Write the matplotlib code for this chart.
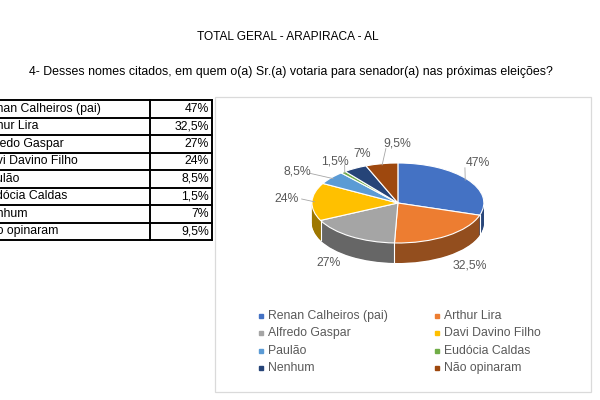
import matplotlib.pyplot as plt
import matplotlib.colors as mcolors
from matplotlib.patches import Rectangle
import numpy as np

plt.rcParams["font.family"] = ["Liberation Sans", "DejaVu Sans"]

title = "TOTAL GERAL - ARAPIRACA - AL"
question = "4- Desses nomes citados, em quem o(a) Sr.(a) votaria para senador(a) nas próximas eleições?"
names = ["Renan Calheiros (pai)", "Arthur Lira", "Alfredo Gaspar", "Davi Davino Filho",
         "Paulão", "Eudócia Caldas", "Nenhum", "Não opinaram"]
values = [47, 32.5, 27, 24, 8.5, 1.5, 7, 9.5]
value_labels = ["47%", "32,5%", "27%", "24%", "8,5%", "1,5%", "7%", "9,5%"]
colors = ["#4472C4", "#ED7D31", "#A5A5A5", "#FFC000", "#5B9BD5", "#70AD47", "#264478", "#9E480E"]

# label layout in pie-axes units (x, y) and leader start (or None)
label_pos = [(0.93, 1.0), (0.84, -1.55), (-0.81, -1.5), (-1.29, 0.1),
             (-1.17, 0.78), (-0.73, 1.03), (-0.42, 1.23), (-0.01, 1.48)]
leader_start = [(0.78, 0.88), None, None, (-1.12, 0.1),
                (-1.02, 0.74), (-0.62, 0.95), None, (-0.14, 1.36)]

fig = plt.figure(figsize=(6, 4), dpi=100)

# background axes in pixel units
bg = fig.add_axes([0, 0, 1, 1])
bg.set_xlim(0, 600)
bg.set_ylim(400, 0)
bg.axis("off")

bg.text(288, 37, title, ha="center", va="center", fontsize=8.6)
bg.text(291, 72, question, ha="center", va="center", fontsize=8.9)

# table (left column runs off the canvas, as in the source)
top, row_h = 100, 17.5
x_left, x_mid, x_right = -40, 150, 212
for i, (name, lab) in enumerate(zip(names, value_labels)):
    y = top + i * row_h
    bg.text(-19, y + row_h / 2, name, ha="left", va="center", fontsize=8.8)
    bg.text(x_right - 3, y + row_h / 2, lab, ha="right", va="center", fontsize=8.8)
for i in range(len(names) + 1):
    y = top + i * row_h
    bg.plot([x_left, x_right], [y, y], color="black", lw=1.4)
for x in (x_mid, x_right):
    bg.plot([x, x], [top, top + row_h * len(names)], color="black", lw=1.4)

# chart area frame
bg.add_patch(Rectangle((215, 97), 376, 295, fill=False, edgecolor="#DADADA", lw=0.9))

# pseudo-3D pie: stacked darker pies for the side, then the top surface
pa = fig.add_axes([260.4 / 600, 121 / 400, 275 / 600, 140 / 400])
dark = [tuple(c * 0.62 for c in mcolors.to_rgb(col)) for col in colors]
depth = 0.5
n_layers = 30
for k in range(n_layers, 0, -1):
    pa.pie(values, colors=dark, startangle=90, counterclock=False,
           center=(0, -depth * k / n_layers), radius=1,
           wedgeprops=dict(linewidth=0.3, edgecolor=None))
pa.pie(values, colors=colors, startangle=90, counterclock=False,
       wedgeprops=dict(edgecolor="white", linewidth=0.8))

total = sum(values)
cum = np.cumsum([0] + values)
for c in cum[1:-1]:
    a = np.deg2rad(90 - c / total * 360)
    if np.sin(a) < 0:
        pa.plot([np.cos(a), np.cos(a)], [np.sin(a), np.sin(a) - depth], color="white", lw=0.8)

for i, lab in enumerate(value_labels):
    mid = np.deg2rad(90 - (cum[i] + values[i] / 2) / total * 360)
    lx, ly = label_pos[i]
    pa.text(lx, ly, lab, ha="center", va="center", fontsize=8.8, color="#595959", clip_on=False)
    if leader_start[i] is not None:
        sx, sy = leader_start[i]
        pa.plot([sx, 0.97 * np.cos(mid)], [sy, 0.97 * np.sin(mid)], color="#A6A6A6", lw=0.6, clip_on=False)

pa.set_aspect("auto")
pa.set_xlim(-1.6, 1.6)
pa.set_ylim(-1.9, 1.6)
pa.axis("off")

# legend
for i, (name, col) in enumerate(zip(names, colors)):
    cx = [261, 437][i % 2]
    cy = 316 + (i // 2) * 17.3
    bg.plot(cx, cy, marker="s", ms=3.5, color=col, ls="none")
    bg.text(cx + 7, cy, name, ha="left", va="center", fontsize=8.8, color="#595959")

fig.savefig("out.png", dpi=100)
